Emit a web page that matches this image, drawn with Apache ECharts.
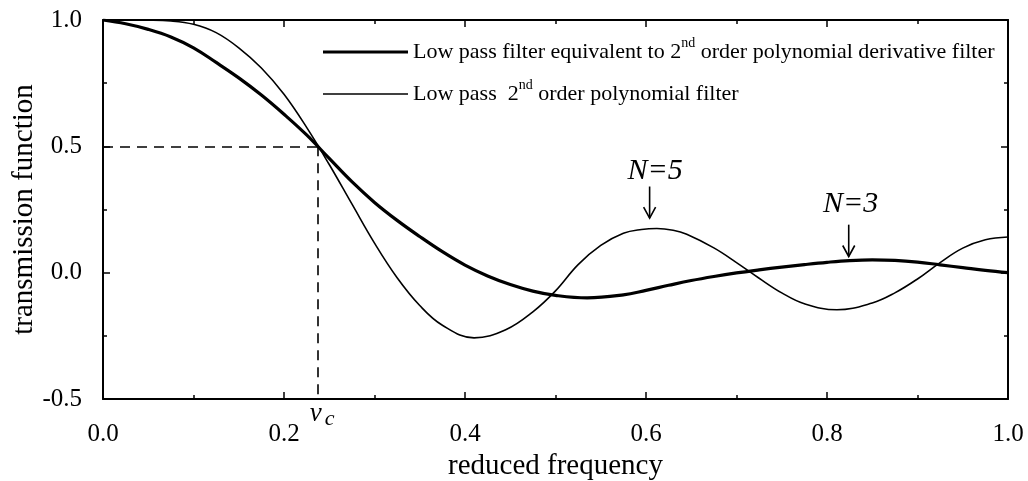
<!DOCTYPE html>
<html>
<head>
<meta charset="utf-8">
<script src="https://cdn.jsdelivr.net/npm/echarts@6/dist/echarts.min.js"></script>
<style>
  html, body { margin: 0; padding: 0; background: #fff; }
  #chart { width: 1028px; height: 481px; }
</style>
</head>
<body>
<div id="chart"></div>
<script>
// Transmission function of the two low-pass filters vs reduced frequency

// N=3: low pass equivalent of the 2nd order polynomial derivative filter
const derivFreq = [0.000, 0.025, 0.050, 0.075, 0.100, 0.125, 0.150, 0.175, 0.200, 0.225,
                   0.250, 0.275, 0.300, 0.325, 0.350, 0.375, 0.400, 0.425, 0.450, 0.475,
                   0.500, 0.535, 0.575, 0.600, 0.625, 0.650, 0.675, 0.700, 0.725,
                   0.750, 0.775, 0.800, 0.825, 0.850, 0.875, 0.900, 0.925, 0.950, 0.975, 1.000];
const derivVal  = [1.000, 0.985, 0.963, 0.933, 0.890, 0.832, 0.771, 0.703, 0.627, 0.545,
                   0.452, 0.360, 0.278, 0.207, 0.143, 0.083, 0.030, -0.013, -0.047, -0.073,
                   -0.090, -0.100, -0.088, -0.070, -0.050, -0.031, -0.015, -0.001, 0.011,
                   0.022, 0.032, 0.041, 0.048, 0.051, 0.049, 0.042, 0.031, 0.020, 0.009, 0.000];

// N=5: 2nd order polynomial smoothing filter
const polyFreq = [0.000, 0.050, 0.075, 0.100, 0.125, 0.150, 0.175, 0.200, 0.225,
                  0.250, 0.275, 0.300, 0.325, 0.350, 0.375, 0.410, 0.445, 0.475,
                  0.500, 0.525, 0.550, 0.575, 0.595, 0.612, 0.630, 0.645, 0.675, 0.700, 0.725,
                  0.750, 0.775, 0.811, 0.850, 0.875, 0.900, 0.925, 0.950, 0.975, 1.000];
const polyVal  = [1.000, 0.999, 0.996, 0.983, 0.950, 0.890, 0.810, 0.706, 0.575,
                  0.428, 0.272, 0.117, -0.020, -0.130, -0.208, -0.258, -0.226, -0.155,
                  -0.072, 0.032, 0.108, 0.156, 0.171, 0.175, 0.168, 0.152, 0.098, 0.040, -0.022,
                  -0.080, -0.123, -0.147, -0.120, -0.080, -0.025, 0.040, 0.097, 0.130, 0.141];

const seriesNames = [
  'Low pass filter equivalent to 2nd order polynomial derivative filter',
  'Low pass 2nd order polynomial filter'
];
const legendText = {};
legendText[seriesNames[0]] = '{a|Low pass filter equivalent to 2}{s|nd}{a| order polynomial derivative filter}';
legendText[seriesNames[1]] = '{a|Low pass  2}{s|nd}{a| order polynomial filter}';

// cut-off frequency and half transmission level
const cutoff = 0.2376;
const halfLevel = 0.5;

// annotations: label, label frequency, label level, arrow frequency, arrow start, arrow end
const notes = [
  { text: 'N=5', labelX: 0.610, labelY: 0.40, x: 0.604, from: 0.341, to: 0.216 },
  { text: 'N=3', labelX: 0.826, labelY: 0.273, x: 0.824, from: 0.190, to: 0.064 }
];

const xTicks = { min: 0, max: 1, step: 0.2 };
const yTicks = { min: -0.5, max: 1.0, step: 0.5 };

const FONT = 'Liberation Serif';
const THICK = 3.2, THIN = 1.6;
const chart = echarts.init(document.getElementById('chart'));

const zip = (xs, ys) => xs.map((x, i) => [x, ys[i]]);
const axisLineStyle = { color: '#000', width: 2 };
const tickStyle = { inside: true, length: 7, lineStyle: { color: '#000', width: 1.5 } };
const minorStyle = { show: true, splitNumber: 2, length: 4, lineStyle: { color: '#000', width: 1.5 } };

const option = {
  backgroundColor: '#fff',
  animation: false,
  grid: { left: 103, right: 20, top: 20, bottom: 82, outerBoundsMode: 'none', containLabel: false },
  legend: {
    orient: 'vertical',
    left: 318,
    top: 31,
    itemWidth: 85,
    itemHeight: 14,
    itemGap: 10,
    symbolKeepAspect: true,
    itemStyle: { borderWidth: 0 },
    formatter: name => legendText[name],
    textStyle: {
      fontFamily: FONT,
      fontSize: 22,
      color: '#000',
      rich: {
        a: { fontFamily: FONT, fontSize: 22, color: '#000', lineHeight: 30 },
        s: { fontFamily: FONT, fontSize: 14, color: '#000', lineHeight: 30, padding: [0, 0, 18, 0] }
      }
    },
    data: [
      { name: seriesNames[0], icon: 'path://M0,0H85V' + THICK + 'H0Z' },
      { name: seriesNames[1], icon: 'path://M0,0H85V' + THIN + 'H0Z' }
    ]
  },
  xAxis: [{
    type: 'value',
    min: xTicks.min, max: xTicks.max, interval: xTicks.step,
    name: 'reduced frequency',
    nameLocation: 'middle',
    nameGap: 53,
    nameMoveOverlap: false,
    nameTextStyle: { fontFamily: FONT, fontSize: 29, color: '#000' },
    axisLine: { onZero: false, lineStyle: axisLineStyle },
    axisTick: tickStyle,
    minorTick: minorStyle,
    splitLine: { show: false },
    axisLabel: { fontFamily: FONT, fontSize: 25, color: '#000', margin: 23, formatter: v => v.toFixed(1) }
  }, {
    type: 'value', position: 'top',
    min: xTicks.min, max: xTicks.max, interval: xTicks.step,
    axisLine: { onZero: false, lineStyle: axisLineStyle },
    axisTick: tickStyle,
    minorTick: minorStyle,
    splitLine: { show: false },
    axisLabel: { show: false }
  }],
  yAxis: [{
    type: 'value',
    min: yTicks.min, max: yTicks.max, interval: yTicks.step,
    name: 'transmission function',
    nameLocation: 'middle',
    nameGap: 64,
    nameRotate: 90,
    nameMoveOverlap: false,
    nameTextStyle: { fontFamily: FONT, fontSize: 29, color: '#000' },
    axisLine: { onZero: false, lineStyle: axisLineStyle },
    axisTick: tickStyle,
    minorTick: minorStyle,
    splitLine: { show: false },
    axisLabel: { fontFamily: FONT, fontSize: 25, color: '#000', margin: 21, formatter: v => v.toFixed(1) }
  }, {
    type: 'value', position: 'right',
    min: yTicks.min, max: yTicks.max, interval: yTicks.step,
    axisLine: { onZero: false, lineStyle: axisLineStyle },
    axisTick: tickStyle,
    minorTick: minorStyle,
    splitLine: { show: false },
    axisLabel: { show: false }
  }],
  series: [{
    name: seriesNames[0],
    type: 'line',
    data: zip(derivFreq, derivVal),
    smooth: 0.4,
    symbol: 'none',
    lineStyle: { color: '#000', width: THICK },
    itemStyle: { color: '#000' },
    z: 3,
    markLine: {
      silent: true,
      symbol: ['none', 'none'],
      label: { show: false },
      lineStyle: { color: '#000', width: 1.6, type: [10, 7] },
      data: [
        [{ coord: [xTicks.min, halfLevel] }, { coord: [cutoff, halfLevel] }],
        [{ coord: [cutoff, halfLevel] }, { coord: [cutoff, yTicks.min] }]
      ]
    }
  }, {
    name: seriesNames[1],
    type: 'line',
    data: zip(polyFreq, polyVal),
    smooth: 0.4,
    symbol: 'none',
    lineStyle: { color: '#000', width: THIN },
    itemStyle: { color: '#000' },
    z: 3
  }]
};

chart.setOption(option);

// annotation text and arrows, placed through the grid's coordinate system
function drawNotes() {
  const px = p => chart.convertToPixel({ gridIndex: 0 }, p);
  const els = [];
  notes.forEach(n => {
    const lp = px([n.labelX, n.labelY]);
    const a = px([n.x, n.from]);
    const b = px([n.x, n.to]);
    els.push({
      type: 'text', x: lp[0], y: lp[1],
      style: { text: n.text, font: 'italic 30px "' + FONT + '"', fill: '#000', align: 'center', verticalAlign: 'middle' }
    });
    els.push({
      type: 'line', shape: { x1: a[0], y1: a[1], x2: b[0], y2: b[1] },
      style: { stroke: '#000', lineWidth: 1.6 }
    });
    els.push({
      type: 'polyline', shape: { points: [[b[0] - 6, b[1] - 11], [b[0], b[1]], [b[0] + 6, b[1] - 11]] },
      style: { stroke: '#000', lineWidth: 1.6, fill: null }
    });
  });
  const c = px([cutoff, yTicks.min]);
  els.push({
    type: 'text', x: c[0] + 4, y: c[1] + 2,
    style: {
      text: '{v|v}{c|c}', fill: '#000', align: 'center', verticalAlign: 'top',
      rich: {
        v: { font: 'italic 27px "' + FONT + '"', fill: '#000', lineHeight: 26 },
        c: { font: 'italic 22px "' + FONT + '"', fill: '#000', lineHeight: 26, padding: [10, 0, 0, 3] }
      }
    }
  });
  chart.setOption({ graphic: els });
}
drawNotes();
</script>
</body>
</html>
